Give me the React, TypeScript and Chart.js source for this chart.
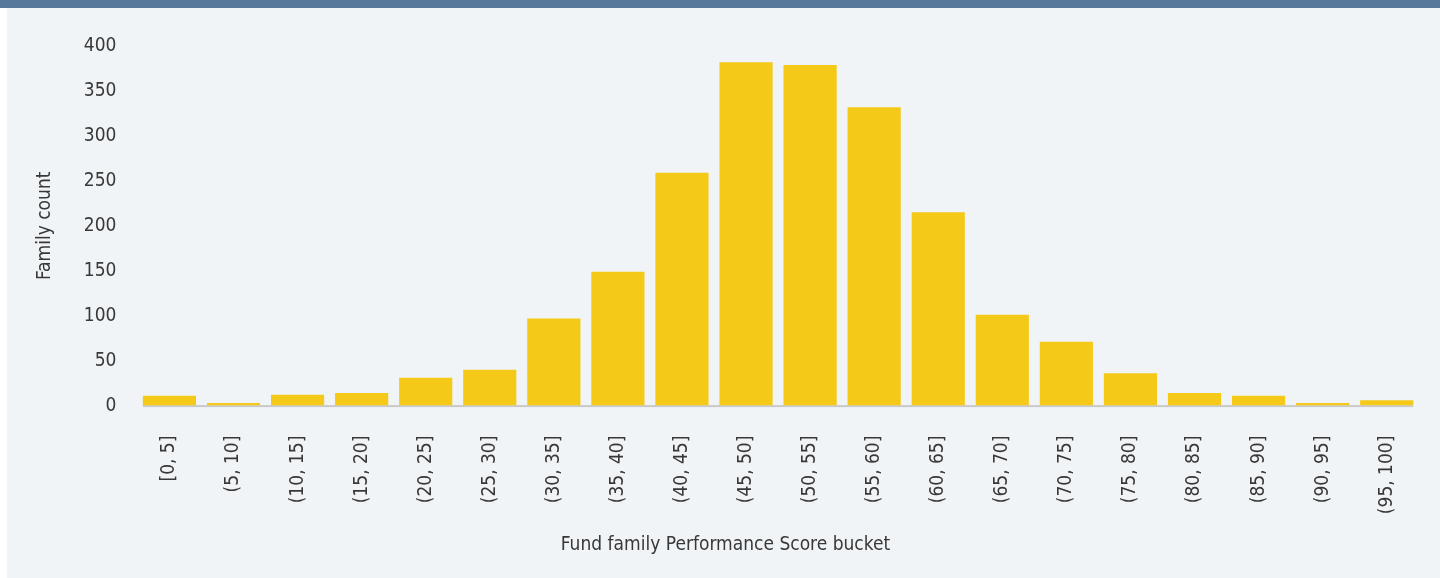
import React, { useEffect, useRef } from "react";
import { Chart, registerables } from "chart.js";

Chart.register(...registerables);

const categories = [
  "[0, 5]", "(5, 10]", "(10, 15]", "(15, 20]", "(20, 25]", "(25, 30]", "(30, 35]",
  "(35, 40]", "(40, 45]", "(45, 50]", "(50, 55]", "(55, 60]", "(60, 65]", "(65, 70]",
  "(70, 75]", "(75, 80]", "(80, 85]", "(85, 90]", "(90, 95]", "(95, 100]",
];
const familyCounts = [11, 3, 12, 14, 31, 40, 97, 149, 259, 382, 379, 332, 215, 101, 71, 36, 14, 11, 3, 6];
const yMin = 0;
const yMax = 400;
const yStep = 50;
const xTitle = "Fund family Performance Score bucket";
const yTitle = "Family count";

const FONT = "'DejaVu Sans Condensed', 'Liberation Sans Narrow', sans-serif";
const TEXT = "#383838";
const SIZE = 19;

const baselinePlugin = {
  id: "baselinePlugin",
  beforeDatasetsDraw(chart: any) {
    const meta = chart.getDatasetMeta(0);
    if (!meta || !meta.data.length) return;
    const first = meta.data[0] as any;
    const last = meta.data[meta.data.length - 1] as any;
    const x1 = first.x - first.width / 2;
    const x2 = last.x + last.width / 2;
    const y0 = chart.scales.y.getPixelForValue(0);
    const ctx = chart.ctx;
    ctx.save();
    ctx.fillStyle = "#c9c9c9";
    ctx.fillRect(x1, y0 - 0.5, x2 - x1, 2);
    ctx.restore();
  },
};

export default function App() {
  const ref = useRef<HTMLCanvasElement | null>(null);
  useEffect(() => {
    if (!ref.current) return;
    const chart = new Chart(ref.current, {
      type: "bar",
      data: {
        labels: categories,
        datasets: [
          {
            label: yTitle,
            data: familyCounts,
            backgroundColor: "#f5c917",
            borderWidth: 0,
            categoryPercentage: 1,
            barPercentage: 0.83,
          },
        ],
      },
      options: {
        responsive: false,
        animation: false,
        devicePixelRatio: 1,
        layout: { padding: { top: 38, right: 20, bottom: 0, left: 24 } },
        plugins: {
          legend: { display: false },
          tooltip: { enabled: false },
          title: {
            display: true,
            position: "bottom",
            text: xTitle,
            color: TEXT,
            font: { family: FONT, size: SIZE, weight: "normal", lineHeight: 1.2 },
            padding: { top: 12, bottom: 22 },
          },
        },
        scales: {
          x: {
            grid: { display: false, drawTicks: false },
            border: { display: false },
            ticks: {
              color: TEXT,
              font: { family: FONT, size: SIZE },
              minRotation: 90,
              maxRotation: 90,
              padding: 30,
              autoSkip: false,
            },
            afterFit(scale: any) {
              scale.height = 115.6;
            },
          },
          y: {
            min: yMin,
            max: yMax,
            grid: { display: false, drawTicks: false },
            border: { display: false },
            ticks: {
              stepSize: yStep,
              color: TEXT,
              font: { family: FONT, size: SIZE },
              padding: 21,
            },
            title: {
              display: true,
              text: yTitle,
              color: TEXT,
              font: { family: FONT, size: SIZE },
              padding: { top: 3, bottom: 0 },
            },
            afterFit(scale: any) {
              scale.width = 106.4;
            },
          },
        },
      },
      plugins: [baselinePlugin],
    } as any);
    return () => chart.destroy();
  }, []);

  return (
    <div style={{ position: "fixed", left: 0, top: 0, width: 1440, height: 578, background: "#ffffff" }}>
      <div style={{ position: "absolute", left: 0, top: 0, width: 1440, height: 8, background: "#57789a" }} />
      <div style={{ position: "absolute", left: 7, top: 8, width: 1433, height: 570, background: "#f0f4f7" }}>
        <canvas ref={ref} width={1433} height={570} style={{ display: "block", width: 1433, height: 570 }} />
      </div>
    </div>
  );
}
